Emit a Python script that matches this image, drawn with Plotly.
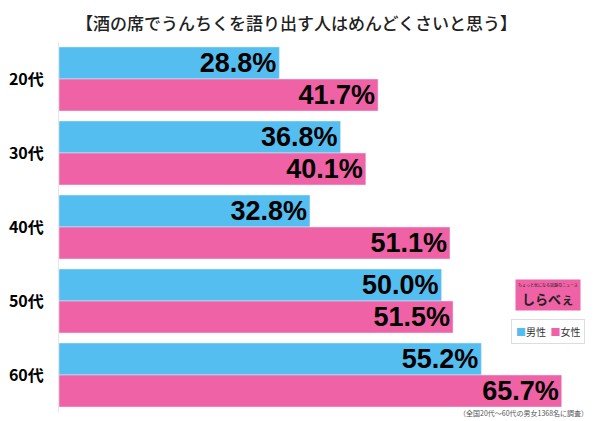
import plotly.graph_objects as go

ages = ['20代', '30代', '40代', '50代', '60代']
male = [28.8, 36.8, 32.8, 50.0, 55.2]
female = [41.7, 40.1, 51.1, 51.5, 65.7]

blue = '#55BEF0'
pink = '#F062A6'
font_jp = 'Noto Sans CJK JP'
label_font = dict(size=27, color='black', family='Liberation Sans', weight='bold')

fig = go.Figure()
fig.add_trace(go.Bar(y=ages, x=male, name='男性', orientation='h',
                     marker_color=blue,
                     text=[f'{v:.1f}%' for v in male],
                     textposition='inside', insidetextanchor='end', constraintext='none',
                     textfont=label_font))
fig.add_trace(go.Bar(y=ages, x=female, name='女性', orientation='h',
                     marker_color=pink,
                     text=[f'{v:.1f}%' for v in female],
                     textposition='inside', insidetextanchor='end', constraintext='none',
                     textfont=label_font))

fig.update_layout(
    width=600, height=421,
    margin=dict(l=59, r=10, t=42, b=9, autoexpand=False),
    paper_bgcolor='white', plot_bgcolor='white',
    barmode='group', bargap=0.135, bargroupgap=0,
    font=dict(family=font_jp, color='black'),
    showlegend=False,
)
fig.update_xaxes(range=[0, 69.4], visible=False, fixedrange=True, automargin=False)
fig.update_yaxes(autorange='reversed', showline=True, linecolor='#e6e6e6', linewidth=1,
                 ticks='', ticklabelstandoff=11, automargin=False, fixedrange=True,
                 tickfont=dict(size=16, family=font_jp, color='black', weight='bold'))

# title
fig.add_annotation(xref='paper', yref='paper', x=0.447, y=1.054, xanchor='center', yanchor='middle',
                   text='【酒の席でうんちくを語り出す人はめんどくさいと思う】', showarrow=False,
                   font=dict(size=17, family=font_jp, color='#222', weight=500))
# logo
fig.add_annotation(xref='paper', yref='paper', x=0.983, y=0.273, xanchor='right', yanchor='bottom',
                   text='<span style="font-size:4px">ちょっと気になる話題のニュース</span><br><b>しらべぇ</b>',
                   showarrow=False, bgcolor=pink, align='center',
                   font=dict(size=13, color='#222', family=font_jp), borderpad=2)
# legend
fig.add_annotation(xref='paper', yref='paper', x=0.99, y=0.2176, xanchor='right', yanchor='middle',
                   text=f'<span style="color:{blue}">■</span>男性  <span style="color:{pink}">■</span>女性',
                   showarrow=False, bgcolor='white', bordercolor='#dddddd', borderwidth=1, borderpad=4,
                   font=dict(size=10, color='#333', family=font_jp))
# footnote
fig.add_annotation(xref='paper', yref='paper', x=1.0, y=-0.003, xanchor='right', yanchor='middle',
                   text='（全国20代～60代の男女1368名に調査）', showarrow=False,
                   font=dict(size=7, color='#555', family=font_jp))

fig.write_html('out.html', config={'displayModeBar': False},
               post_script="document.body.style.margin='0';")
